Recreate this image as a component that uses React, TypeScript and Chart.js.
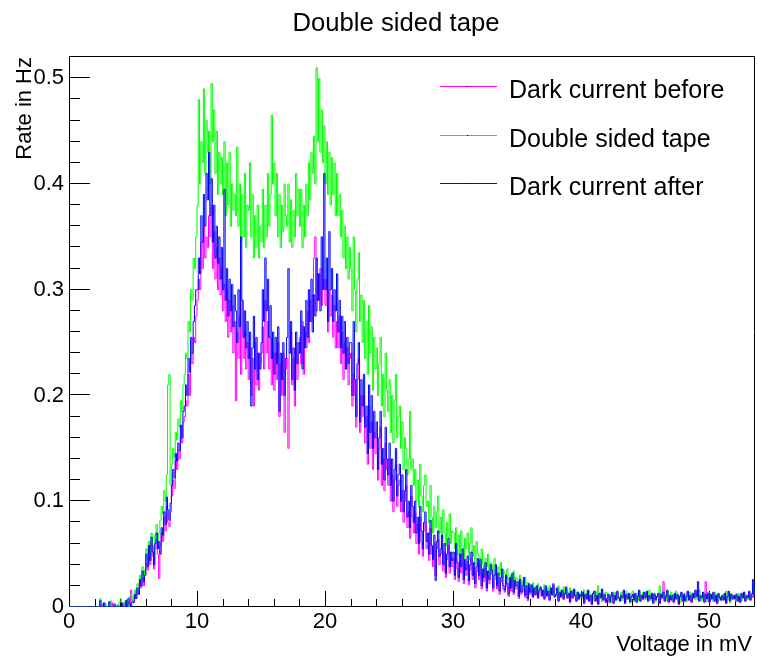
import React, { useEffect, useRef } from "react";
import { Chart, registerables } from "chart.js";

Chart.register(...registerables);

const TITLE = "Double sided tape";
const X_TITLE = "Voltage in mV";
const Y_TITLE = "Rate in Hz";
const SERIES_LABELS = ["Dark current before", "Double sided tape", "Dark current after"];
const SERIES_COLORS = ["#ff00ff", "#00ff00", "#0000ff"];

const BIN_WIDTH = 0.1; // mV
const X_MIN = 0;
const X_MAX = 53.6;
const Y_MIN = 0;
const Y_MAX = 0.521;
const X_MAJOR = [0, 10, 20, 30, 40, 50];
const Y_MAJOR = [0, 0.1, 0.2, 0.3, 0.4, 0.5];

// rate in Hz per 0.1 mV bin, one row per mV
const darkBefore = [
  0, 0, 0, 0, 0, 0, 0, 0, 0, 0,
  0, 0, 0, 0, 0, 0, 0, 0, 0, 0,
  0, 0, 0, 0, 0, 0, 0.003, 0, 0, 0,
  0, 0, 0, 0.004, 0, 0, 0, 0, 0.002, 0,
  0, 0, 0.003, 0, 0, 0, 0.004, 0, 0.016, 0.006,
  0.005, 0.01, 0.008, 0.015, 0.012, 0.024, 0.018, 0.028, 0.02, 0.03,
  0.042, 0.035, 0.052, 0.04, 0.06, 0.048, 0.036, 0.055, 0.064, 0.05,
  0.027, 0.058, 0.07, 0.062, 0.085, 0.072, 0.095, 0.08, 0.076, 0.09,
  0.105, 0.12, 0.112, 0.138, 0.13, 0.148, 0.14, 0.16, 0.155, 0.175,
  0.18, 0.195, 0.19, 0.22, 0.2, 0.24, 0.23, 0.255, 0.25, 0.275,
  0.29, 0.31, 0.3, 0.345, 0.32, 0.36, 0.33, 0.35, 0.34, 0.37,
  0.35, 0.38, 0.32, 0.355, 0.31, 0.34, 0.3, 0.33, 0.295, 0.32,
  0.28, 0.305, 0.27, 0.3, 0.255, 0.29, 0.26, 0.285, 0.24, 0.27,
  0.195, 0.26, 0.235, 0.275, 0.22, 0.29, 0.235, 0.26, 0.225, 0.25,
  0.215, 0.245, 0.2, 0.235, 0.19, 0.25, 0.21, 0.24, 0.205, 0.23,
  0.24, 0.265, 0.225, 0.29, 0.24, 0.27, 0.225, 0.255, 0.21, 0.24,
  0.205, 0.24, 0.215, 0.25, 0.18, 0.23, 0.2, 0.24, 0.165, 0.225,
  0.235, 0.15, 0.24, 0.26, 0.21, 0.235, 0.19, 0.25, 0.215, 0.24,
  0.255, 0.23, 0.27, 0.22, 0.26, 0.245, 0.28, 0.25, 0.29, 0.27,
  0.295, 0.33, 0.35, 0.28, 0.315, 0.29, 0.32, 0.285, 0.3, 0.31,
  0.285, 0.31, 0.26, 0.3, 0.275, 0.295, 0.255, 0.285, 0.245, 0.27,
  0.245, 0.275, 0.23, 0.26, 0.215, 0.25, 0.225, 0.245, 0.21, 0.235,
  0.24, 0.19, 0.22, 0.2, 0.17, 0.215, 0.235, 0.165, 0.2, 0.18,
  0.2, 0.155, 0.18, 0.135, 0.19, 0.15, 0.175, 0.13, 0.165, 0.145,
  0.16, 0.12, 0.15, 0.17, 0.115, 0.14, 0.11, 0.155, 0.13, 0.115,
  0.14, 0.1, 0.125, 0.09, 0.12, 0.135, 0.095, 0.115, 0.12, 0.09,
  0.11, 0.08, 0.1, 0.115, 0.075, 0.09, 0.065, 0.105, 0.085, 0.07,
  0.09, 0.06, 0.078, 0.05, 0.085, 0.062, 0.048, 0.072, 0.08, 0.055,
  0.062, 0.044, 0.074, 0.05, 0.038, 0.06, 0.03, 0.055, 0.064, 0.04,
  0.05, 0.06, 0.034, 0.052, 0.028, 0.045, 0.058, 0.032, 0.046, 0.038,
  0.046, 0.026, 0.054, 0.036, 0.024, 0.044, 0.032, 0.05, 0.022, 0.04,
  0.03, 0.043, 0.021, 0.035, 0.046, 0.026, 0.037, 0.018, 0.033, 0.041,
  0.026, 0.04, 0.017, 0.031, 0.024, 0.037, 0.015, 0.03, 0.022, 0.035,
  0.031, 0.015, 0.026, 0.035, 0.017, 0.028, 0.012, 0.024, 0.032, 0.017,
  0.014, 0.026, 0.019, 0.01, 0.024, 0.015, 0.028, 0.012, 0.021, 0.017,
  0.02, 0.008, 0.022, 0.012, 0.017, 0.024, 0.009, 0.017, 0.006, 0.019,
  0.012, 0.019, 0.009, 0.016, 0.011, 0.018, 0.008, 0.014, 0.017, 0.01,
  0.015, 0.007, 0.018, 0.01, 0.013, 0.006, 0.016, 0.011, 0.02, 0.009,
  0.011, 0.016, 0.005, 0.013, 0.009, 0.015, 0.007, 0.012, 0.017, 0.008,
  0.012, 0.004, 0.014, 0.008, 0.015, 0.01, 0.005, 0.013, 0.007, 0.011,
  0.009, 0.013, 0.003, 0.011, 0.007, 0.015, 0.005, 0.01, 0.002, 0.012,
  0.014, 0.005, 0.01, 0.002, 0.012, 0.008, 0.016, 0.006, 0.011, 0.004,
  0.007, 0.011, 0.004, 0.009, 0.013, 0.003, 0.01, 0.006, 0.014, 0.008,
  0.005, 0.01, 0.008, 0.015, 0.003, 0.011, 0.007, 0.012, 0.004, 0.009,
  0.011, 0.006, 0.012, 0.004, 0.009, 0.015, 0.005, 0.01, 0.007, 0.013,
  0.008, 0.014, 0.005, 0.01, 0.007, 0.012, 0.003, 0.011, 0.006, 0.009,
  0.012, 0.003, 0.011, 0.008, 0.024, 0.005, 0.009, 0.015, 0.004, 0.01,
  0.006, 0.01, 0.004, 0.012, 0.007, 0.011, 0.002, 0.009, 0.013, 0.005,
  0.011, 0.005, 0.009, 0.014, 0.006, 0.01, 0.004, 0.012, 0.008, 0.015,
  0.009, 0.016, 0.005, 0.01, 0.008, 0.013, 0.004, 0.024, 0.007, 0.012,
  0.004, 0.011, 0.007, 0.013, 0.005, 0.01, 0.003, 0.012, 0.008, 0.006,
  0.01, 0.006, 0.012, 0.003, 0.009, 0.014, 0.005, 0.011, 0.007, 0.01,
  0.007, 0.011, 0.005, 0.009, 0.004, 0.012, 0.008, 0.013, 0.005, 0.01,
  0.008, 0.014, 0.006, 0.011, 0.009, 0.01,
];

const doubleSidedTape = [
  0, 0, 0, 0, 0, 0, 0, 0, 0, 0,
  0, 0, 0, 0, 0, 0, 0, 0, 0, 0,
  0, 0, 0, 0, 0.008, 0, 0, 0, 0.003, 0,
  0, 0, 0.006, 0, 0, 0, 0.002, 0, 0, 0.004,
  0.008, 0, 0, 0.004, 0, 0.007, 0, 0.01, 0.012, 0.006,
  0.01, 0.016, 0.012, 0.022, 0.018, 0.03, 0.026, 0.038, 0.03, 0.035,
  0.055, 0.045, 0.062, 0.05, 0.07, 0.058, 0.048, 0.068, 0.078, 0.062,
  0.07, 0.082, 0.095, 0.088, 0.11, 0.1, 0.125, 0.21, 0.22, 0.115,
  0.135, 0.15, 0.142, 0.165, 0.158, 0.178, 0.17, 0.195, 0.185, 0.21,
  0.22, 0.24, 0.235, 0.27, 0.26, 0.3, 0.29, 0.33, 0.32, 0.35,
  0.38, 0.48, 0.4, 0.44, 0.42, 0.49, 0.41, 0.46, 0.43, 0.45,
  0.4, 0.495, 0.44, 0.47, 0.41, 0.45, 0.39, 0.43, 0.4, 0.425,
  0.39, 0.44, 0.37, 0.42, 0.38, 0.43, 0.36, 0.4, 0.375, 0.39,
  0.37, 0.435, 0.36, 0.4, 0.345, 0.39, 0.35, 0.41, 0.34, 0.38,
  0.375, 0.42, 0.35, 0.39, 0.33, 0.37, 0.34, 0.38, 0.33, 0.36,
  0.345, 0.395, 0.34, 0.38, 0.35, 0.41, 0.36, 0.39, 0.465, 0.4,
  0.42, 0.37, 0.41, 0.35, 0.39, 0.34, 0.38, 0.355, 0.4, 0.37,
  0.36, 0.4, 0.345, 0.385, 0.34, 0.375, 0.35, 0.41, 0.37, 0.395,
  0.36, 0.395, 0.34, 0.38, 0.35, 0.4, 0.37, 0.42, 0.385, 0.43,
  0.41, 0.445, 0.4, 0.51, 0.44, 0.5, 0.43, 0.47, 0.42, 0.455,
  0.4, 0.44, 0.39, 0.43, 0.38, 0.425, 0.39, 0.42, 0.37, 0.41,
  0.37, 0.39, 0.35, 0.375, 0.33, 0.36, 0.32, 0.35, 0.31, 0.34,
  0.32, 0.28, 0.35, 0.3, 0.26, 0.31, 0.335, 0.27, 0.295, 0.25,
  0.29, 0.235, 0.27, 0.22, 0.285, 0.24, 0.265, 0.205, 0.255, 0.225,
  0.245, 0.2, 0.23, 0.255, 0.19, 0.22, 0.18, 0.24, 0.205, 0.185,
  0.215, 0.165, 0.2, 0.155, 0.195, 0.22, 0.16, 0.18, 0.19, 0.15,
  0.175, 0.13, 0.16, 0.15, 0.125, 0.14, 0.185, 0.13, 0.14, 0.115,
  0.13, 0.1, 0.12, 0.095, 0.135, 0.105, 0.09, 0.115, 0.125, 0.095,
  0.1, 0.08, 0.115, 0.085, 0.07, 0.095, 0.075, 0.09, 0.105, 0.07,
  0.085, 0.065, 0.092, 0.07, 0.058, 0.08, 0.066, 0.088, 0.06, 0.072,
  0.07, 0.055, 0.075, 0.05, 0.068, 0.048, 0.072, 0.058, 0.045, 0.065,
  0.055, 0.07, 0.045, 0.06, 0.075, 0.048, 0.058, 0.04, 0.062, 0.05,
  0.048, 0.036, 0.055, 0.04, 0.03, 0.046, 0.038, 0.05, 0.032, 0.042,
  0.04, 0.028, 0.046, 0.034, 0.025, 0.038, 0.03, 0.042, 0.026, 0.035,
  0.032, 0.022, 0.036, 0.026, 0.02, 0.03, 0.024, 0.034, 0.019, 0.028,
  0.026, 0.017, 0.03, 0.02, 0.024, 0.014, 0.028, 0.018, 0.023, 0.02,
  0.02, 0.013, 0.023, 0.017, 0.019, 0.014, 0.022, 0.016, 0.018, 0.015,
  0.015, 0.021, 0.011, 0.018, 0.014, 0.02, 0.012, 0.017, 0.013, 0.016,
  0.017, 0.01, 0.02, 0.013, 0.016, 0.011, 0.019, 0.012, 0.015, 0.01,
  0.012, 0.018, 0.009, 0.015, 0.011, 0.016, 0.008, 0.014, 0.01, 0.013,
  0.014, 0.008, 0.016, 0.01, 0.013, 0.007, 0.015, 0.009, 0.012, 0.011,
  0.006, 0.015, 0.01, 0.02, 0.008, 0.013, 0.005, 0.012, 0.009, 0.014,
  0.013, 0.007, 0.012, 0.004, 0.011, 0.009, 0.014, 0.006, 0.01, 0.008,
  0.009, 0.014, 0.006, 0.012, 0.01, 0.015, 0.007, 0.011, 0.004, 0.013,
  0.015, 0.005, 0.011, 0.008, 0.013, 0.006, 0.012, 0.009, 0.014, 0.007,
  0.007, 0.012, 0.009, 0.016, 0.006, 0.011, 0.008, 0.013, 0.005, 0.01,
  0.011, 0.02, 0.007, 0.013, 0.009, 0.012, 0.006, 0.014, 0.008, 0.011,
  0.014, 0.006, 0.012, 0.008, 0.015, 0.007, 0.011, 0.004, 0.013, 0.009,
  0.008, 0.013, 0.005, 0.011, 0.009, 0.014, 0.006, 0.012, 0.01, 0.007,
  0.012, 0.007, 0.016, 0.01, 0.006, 0.013, 0.009, 0.011, 0.005, 0.014,
  0.013, 0.008, 0.011, 0.005, 0.014, 0.009, 0.012, 0.006, 0.01, 0.008,
  0.006, 0.012, 0.009, 0.015, 0.007, 0.011, 0.004, 0.013, 0.008, 0.01,
  0.011, 0.005, 0.013, 0.008, 0.012, 0.006, 0.01, 0.014, 0.007, 0.009,
  0.007, 0.011, 0.008, 0.013, 0.02, 0.012,
];

const darkAfter = [
  0, 0, 0, 0, 0, 0, 0, 0, 0, 0,
  0, 0, 0, 0, 0, 0, 0, 0, 0, 0,
  0, 0, 0, 0, 0.006, 0, 0, 0.004, 0, 0,
  0, 0.005, 0, 0, 0, 0.003, 0, 0, 0, 0,
  0, 0.004, 0, 0, 0.006, 0, 0.008, 0.003, 0, 0.005,
  0.004, 0.012, 0.008, 0.018, 0.012, 0.026, 0.02, 0.034, 0.024, 0.03,
  0.05, 0.038, 0.058, 0.044, 0.066, 0.052, 0.04, 0.06, 0.07, 0.055,
  0.062, 0.05, 0.075, 0.068, 0.09, 0.078, 0.104, 0.092, 0.082, 0.098,
  0.115, 0.13, 0.122, 0.145, 0.138, 0.155, 0.148, 0.172, 0.16, 0.185,
  0.19, 0.21, 0.2, 0.235, 0.222, 0.255, 0.24, 0.27, 0.285, 0.3,
  0.3, 0.33, 0.315, 0.37, 0.345, 0.39, 0.36, 0.41, 0.385, 0.43,
  0.37, 0.405, 0.345, 0.38, 0.33, 0.36, 0.325, 0.35, 0.31, 0.34,
  0.3, 0.395, 0.29, 0.32, 0.275, 0.31, 0.28, 0.305, 0.265, 0.295,
  0.28, 0.25, 0.3, 0.265, 0.35, 0.29, 0.255, 0.28, 0.245, 0.27,
  0.235, 0.26, 0.19, 0.245, 0.275, 0.225, 0.255, 0.215, 0.24, 0.225,
  0.25, 0.3, 0.27, 0.33, 0.28, 0.31, 0.255, 0.285, 0.235, 0.26,
  0.22, 0.255, 0.23, 0.265, 0.185, 0.24, 0.215, 0.25, 0.2, 0.235,
  0.255, 0.32, 0.24, 0.27, 0.215, 0.245, 0.205, 0.26, 0.23, 0.25,
  0.24, 0.28, 0.225, 0.265, 0.245, 0.29, 0.255, 0.3, 0.27, 0.31,
  0.26, 0.295, 0.275, 0.33, 0.29, 0.315, 0.28, 0.35, 0.3, 0.41,
  0.3, 0.33, 0.27, 0.355, 0.3, 0.32, 0.27, 0.3, 0.28, 0.315,
  0.26, 0.29, 0.245, 0.275, 0.24, 0.27, 0.225, 0.255, 0.23, 0.25,
  0.25, 0.2, 0.27, 0.215, 0.18, 0.23, 0.25, 0.175, 0.215, 0.19,
  0.22, 0.17, 0.19, 0.145, 0.21, 0.165, 0.2, 0.15, 0.185, 0.16,
  0.175, 0.13, 0.16, 0.185, 0.135, 0.15, 0.12, 0.17, 0.14, 0.125,
  0.155, 0.115, 0.14, 0.1, 0.13, 0.15, 0.105, 0.125, 0.135, 0.1,
  0.125, 0.09, 0.11, 0.13, 0.085, 0.1, 0.075, 0.115, 0.095, 0.08,
  0.1, 0.07, 0.085, 0.06, 0.095, 0.072, 0.055, 0.08, 0.09, 0.062,
  0.07, 0.05, 0.082, 0.058, 0.045, 0.068, 0.025, 0.062, 0.072, 0.048,
  0.055, 0.068, 0.04, 0.06, 0.032, 0.05, 0.065, 0.038, 0.052, 0.044,
  0.052, 0.03, 0.06, 0.042, 0.028, 0.05, 0.038, 0.055, 0.026, 0.045,
  0.035, 0.048, 0.025, 0.04, 0.052, 0.03, 0.042, 0.022, 0.038, 0.046,
  0.03, 0.045, 0.02, 0.036, 0.028, 0.042, 0.018, 0.034, 0.026, 0.04,
  0.035, 0.018, 0.03, 0.04, 0.02, 0.032, 0.015, 0.028, 0.036, 0.02,
  0.016, 0.03, 0.022, 0.012, 0.028, 0.018, 0.032, 0.014, 0.025, 0.02,
  0.024, 0.01, 0.026, 0.014, 0.02, 0.028, 0.011, 0.02, 0.008, 0.022,
  0.014, 0.021, 0.01, 0.018, 0.012, 0.02, 0.009, 0.016, 0.019, 0.011,
  0.016, 0.008, 0.02, 0.011, 0.015, 0.007, 0.018, 0.012, 0.022, 0.01,
  0.012, 0.018, 0.006, 0.014, 0.01, 0.016, 0.008, 0.013, 0.019, 0.009,
  0.013, 0.005, 0.015, 0.009, 0.017, 0.011, 0.006, 0.014, 0.008, 0.012,
  0.01, 0.014, 0.004, 0.012, 0.008, 0.016, 0.006, 0.011, 0.003, 0.013,
  0.015, 0.006, 0.011, 0.003, 0.013, 0.009, 0.017, 0.007, 0.012, 0.005,
  0.008, 0.012, 0.005, 0.01, 0.014, 0.004, 0.011, 0.007, 0.015, 0.009,
  0.006, 0.011, 0.009, 0.016, 0.004, 0.012, 0.008, 0.013, 0.005, 0.01,
  0.012, 0.007, 0.013, 0.005, 0.01, 0.016, 0.006, 0.011, 0.008, 0.014,
  0.009, 0.015, 0.006, 0.011, 0.008, 0.013, 0.004, 0.012, 0.007, 0.01,
  0.013, 0.004, 0.012, 0.009, 0.014, 0.006, 0.01, 0.016, 0.005, 0.011,
  0.007, 0.011, 0.005, 0.013, 0.008, 0.012, 0.003, 0.01, 0.014, 0.006,
  0.012, 0.006, 0.01, 0.015, 0.007, 0.011, 0.005, 0.013, 0.009, 0.016,
  0.01, 0.024, 0.006, 0.011, 0.009, 0.014, 0.005, 0.012, 0.008, 0.013,
  0.005, 0.012, 0.008, 0.014, 0.006, 0.011, 0.004, 0.013, 0.009, 0.007,
  0.011, 0.007, 0.013, 0.004, 0.01, 0.015, 0.006, 0.012, 0.008, 0.011,
  0.008, 0.012, 0.006, 0.01, 0.005, 0.013, 0.009, 0.014, 0.006, 0.011,
  0.009, 0.015, 0.007, 0.012, 0.026, 0.01,
];

const FONT = '"Liberation Sans", Arial, Helvetica, sans-serif';

function toPoints(values: number[]) {
  return values.map((y, i) => ({ x: (i + 0.5) * BIN_WIDTH, y }));
}

const rootStylePlugin = {
  id: "rootStyle",
  beforeDatasetsDraw(chart: any) {
    const { ctx, chartArea } = chart;
    const xs = chart.scales.x;
    const ys = chart.scales.y;
    const { left, right, top, bottom } = chartArea;
    ctx.save();
    ctx.strokeStyle = "#000";
    ctx.lineWidth = 1;
    ctx.beginPath();
    ctx.rect(Math.round(left) + 0.5, Math.round(top) + 0.5, Math.round(right - left) - 1, Math.round(bottom - top) - 1);
    ctx.stroke();
    ctx.beginPath();
    for (let k = 0; k <= Math.round(Y_MAX / 0.02); k++) {
      const v = k * 0.02;
      if (v > Y_MAX) break;
      const isMajor = k % 5 === 0;
      const py = Math.round(ys.getPixelForValue(v)) - 0.5;
      const len = isMajor ? 21 : 11;
      ctx.moveTo(left, py);
      ctx.lineTo(left + len, py);
    }
    for (let k = 0; k * 2 <= X_MAX; k++) {
      const v = k * 2;
      const isMajor = k % 5 === 0;
      const px = Math.round(xs.getPixelForValue(v)) + 0.5;
      const len = isMajor ? 16 : 8;
      ctx.moveTo(px, bottom);
      ctx.lineTo(px, bottom - len);
    }
    ctx.stroke();
    ctx.restore();
  },
  afterDraw(chart: any) {
    const { ctx } = chart;
    ctx.save();
    ctx.fillStyle = "#000";
    ctx.font = `25.7px ${FONT}`;
    ctx.textAlign = "center";
    ctx.textBaseline = "alphabetic";
    ctx.fillText(TITLE, 396, 31);
    ctx.font = `22px ${FONT}`;
    ctx.textAlign = "right";
    ctx.fillText(X_TITLE, 752, 650.5);
    ctx.save();
    ctx.translate(30.5, 57);
    ctx.rotate(-Math.PI / 2);
    ctx.textAlign = "right";
    ctx.fillText(Y_TITLE, 0, 0);
    ctx.restore();
    const rows = [86.5, 135.5, 183.5];
    ctx.font = `25px ${FONT}`;
    ctx.textAlign = "left";
    ctx.textBaseline = "alphabetic";
    rows.forEach((ry, i) => {
      ctx.strokeStyle = SERIES_COLORS[i];
      ctx.lineWidth = 1;
      ctx.beginPath();
      ctx.moveTo(440, ry);
      ctx.lineTo(497, ry);
      ctx.stroke();
      ctx.fillStyle = "#000";
      ctx.fillRect(467, ry - 0.5, 1, 1);
      ctx.fillText(SERIES_LABELS[i], 509, ry + 11);
    });
    ctx.restore();
  },
};

export default function App() {
  const canvasRef = useRef<HTMLCanvasElement | null>(null);

  useEffect(() => {
    const canvas = canvasRef.current;
    if (!canvas) return;
    const seriesValues = [darkBefore, doubleSidedTape, darkAfter];
    const chart = new Chart(canvas, {
      type: "line",
      data: {
        datasets: seriesValues.map((vals, i) => ({
          label: SERIES_LABELS[i],
          data: toPoints(vals),
          borderColor: SERIES_COLORS[i],
          backgroundColor: SERIES_COLORS[i],
          borderWidth: 1,
          pointRadius: 0,
          fill: false,
          stepped: "middle" as const,
          tension: 0,
          order: 2 - i,
        })),
      },
      options: {
        animation: false,
        responsive: false,
        devicePixelRatio: 1,
        layout: { padding: { top: 56, right: 2, left: 0, bottom: 0 } },
        plugins: {
          legend: { display: false },
          title: { display: false },
          tooltip: { enabled: false },
        },
        events: [],
        scales: {
          x: {
            type: "linear",
            min: X_MIN,
            max: X_MAX,
            grid: { display: false, drawTicks: false },
            border: { display: false },
            afterFit: (scale: any) => {
              scale.height = 51;
            },
            afterBuildTicks: (scale: any) => {
              scale.ticks = X_MAJOR.map((v) => ({ value: v }));
            },
            ticks: {
              includeBounds: false,
              autoSkip: false,
              maxRotation: 0,
              padding: 2,
              color: "#000",
              font: { family: FONT, size: 22 },
              callback: (v: any) => String(v),
            },
          },
          y: {
            type: "linear",
            min: Y_MIN,
            max: Y_MAX,
            grid: { display: false, drawTicks: false },
            border: { display: false },
            afterFit: (scale: any) => {
              scale.width = 69;
            },
            afterBuildTicks: (scale: any) => {
              scale.ticks = Y_MAJOR.map((v) => ({ value: v }));
            },
            ticks: {
              includeBounds: false,
              autoSkip: false,
              padding: 5,
              color: "#000",
              font: { family: FONT, size: 22 },
              callback: (v: any) => String(Math.round(Number(v) * 10) / 10),
            },
          },
        },
      },
      plugins: [rootStylePlugin],
    } as any);
    return () => chart.destroy();
  }, []);

  return (
    <div style={{ position: "fixed", left: 0, top: 0, width: 757, height: 658, background: "#fff" }}>
      <canvas ref={canvasRef} width={757} height={658} style={{ display: "block", width: 757, height: 658 }} />
    </div>
  );
}
